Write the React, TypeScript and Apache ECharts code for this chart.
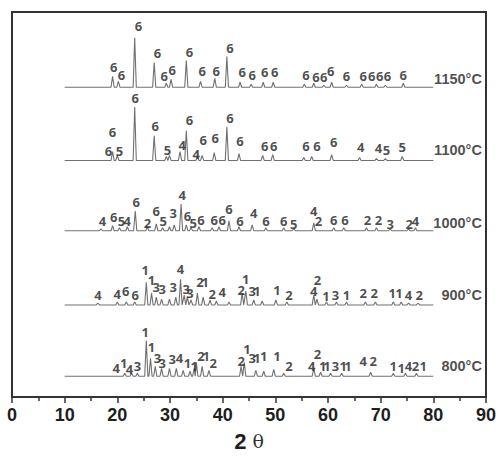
import React, { useEffect, useRef } from 'react';
import * as echarts from 'echarts';

// Temperatures, bottom to top, and their stacking offsets (arbitrary intensity units)
const temperatures = ['800°C', '900°C', '1000°C', '1100°C', '1150°C'];
const baselineOffsets = [21, 93, 168, 239, 313];
const tempLabelHeights = [10, 10, 8, 11, 8];
const scanStart = 10;
const scanEnd = 80;
const xTicks = [0, 10, 20, 30, 40, 50, 60, 70, 80, 90];

// Peaks: [2θ, intensity above baseline]
const peaks800 = [
  [21.4, 3], [22.7, 3], [23.8, 3], [25.5, 36], [26.3, 18], [27.2, 10], [28.4, 8], [29.9, 8],
  [31.2, 8], [32.5, 6], [33.8, 5], [34.6, 8], [35.0, 14], [36.1, 10], [37.4, 6], [43.5, 10],
  [44.1, 14], [46.3, 6], [47.8, 5], [49.7, 7], [51.6, 3], [57.3, 8], [58.6, 4], [60.5, 3],
  [62.6, 3], [68.1, 4], [72.4, 3], [74.7, 3], [76.8, 3],
];
const peaks900 = [
  [16.3, 2], [20.0, 3], [21.7, 3], [23.3, 3], [25.5, 23], [26.5, 12], [27.4, 8], [28.4, 6],
  [29.9, 6], [31.1, 8], [32.0, 26], [32.7, 10], [33.3, 8], [34.0, 5], [35.2, 12], [36.3, 8],
  [37.6, 5], [38.8, 4], [41.2, 3], [43.7, 12], [44.4, 14], [45.9, 5], [47.5, 4], [50.1, 5],
  [52.2, 3], [57.3, 10], [57.9, 6], [59.7, 3], [61.6, 3], [63.5, 3], [67.1, 3], [69.0, 3],
  [72.4, 3], [73.9, 3], [75.3, 2], [77.1, 2],
];
const peaks1000 = [
  [16.9, 2], [19.1, 5], [20.4, 3], [21.9, 4], [23.4, 20], [25.7, 4], [27.4, 7], [28.6, 3],
  [29.9, 4], [30.8, 6], [32.1, 27], [33.1, 6], [34.0, 3], [35.5, 4], [38.0, 3], [39.3, 4],
  [41.2, 10], [43.1, 4], [45.6, 6], [48.2, 3], [51.6, 3], [53.5, 2], [57.3, 8], [61.1, 3],
  [63.0, 3], [67.3, 3], [69.2, 3], [71.8, 2], [75.3, 2], [76.6, 3],
];
const peaks1100 = [
  [19.1, 9], [20.0, 5], [23.3, 54], [27.0, 25], [29.3, 4], [29.9, 5], [31.9, 9], [33.1, 30],
  [35.2, 4], [36.1, 5], [38.4, 8], [40.8, 34], [43.1, 7], [47.6, 5], [49.5, 6], [55.4, 3],
  [56.9, 4], [60.7, 6], [66.0, 3], [69.2, 2], [70.9, 2], [74.1, 4],
];
const peaks1150 = [
  [19.1, 11], [20.2, 6], [23.3, 50], [27.0, 25], [29.3, 4], [30.2, 8], [33.1, 27], [35.8, 6],
  [38.5, 9], [40.8, 31], [43.3, 5], [45.4, 3], [47.7, 5], [49.6, 5], [55.5, 3], [57.3, 4],
  [59.2, 2], [60.7, 5], [63.5, 2], [66.4, 3], [69.2, 3], [70.9, 2], [74.3, 4],
];

// Phase labels: [2θ, height above baseline, phase number]
const phaseLabels800 = [
  [19.8, 8, '4'], [21.2, 13, '1'], [22.3, 7, '4'], [23.8, 10, '3'], [25.3, 45, '1'], [26.5, 30, '1'],
  [27.6, 18, '3'], [28.5, 13, '3'], [30.4, 17, '3'], [31.8, 18, '4'], [33.3, 13, '1'], [34.6, 10, '1'],
  [35.9, 20, '2'], [36.9, 20, '1'], [38.2, 13, '2'], [43.5, 15, '2'], [44.6, 28, '1'], [45.6, 18, '3'],
  [46.5, 18, '1'], [47.8, 20, '1'], [50.3, 20, '1'], [52.6, 10, '2'], [56.9, 10, '4'], [58.0, 22, '2'],
  [59.0, 10, '1'], [59.8, 10, '1'], [61.4, 10, '3'], [62.9, 10, '1'], [63.8, 10, '1'], [66.7, 15, '4'],
  [68.6, 15, '2'], [72.4, 10, '1'], [73.9, 8, '1'], [75.3, 10, '4'], [76.6, 10, '2'], [78.1, 10, '1'],
];
const phaseLabels900 = [
  [16.3, 10, '4'], [20.0, 11, '4'], [21.6, 14, '6'], [23.4, 10, '6'], [25.3, 35, '1'], [26.5, 25, '1'],
  [27.4, 18, '3'], [28.5, 16, '3'], [30.6, 18, '3'], [32.0, 36, '4'], [33.1, 16, '3'], [33.8, 12, '3'],
  [35.7, 23, '2'], [36.7, 23, '1'], [38.0, 11, '2'], [39.9, 13, '4'], [43.5, 15, '2'], [44.4, 26, '1'],
  [45.6, 14, '3'], [46.5, 14, '1'], [50.3, 15, '1'], [52.6, 10, '2'], [57.3, 14, '4'], [58.0, 25, '2'],
  [59.6, 9, '1'], [61.4, 10, '3'], [63.5, 10, '1'], [66.7, 12, '2'], [68.8, 12, '2'], [72.2, 12, '1'],
  [73.5, 12, '1'], [75.3, 10, '4'], [77.3, 10, '2'],
];
const phaseLabels1000 = [
  [17.2, 10, '4'], [19.3, 14, '6'], [20.8, 10, '5'], [21.9, 10, '4'], [23.6, 29, '6'], [25.7, 8, '2'],
  [27.4, 20, '6'], [28.7, 10, '5'], [30.6, 18, '3'], [32.3, 36, '4'], [33.3, 15, '6'], [34.4, 8, '5'],
  [35.9, 11, '6'], [38.4, 11, '6'], [39.9, 11, '6'], [41.2, 22, '6'], [43.3, 10, '6'], [45.9, 18, '4'],
  [48.2, 10, '6'], [51.6, 10, '6'], [53.5, 7, '5'], [57.3, 20, '4'], [58.2, 10, '2'], [61.1, 11, '6'],
  [63.2, 11, '6'], [67.5, 11, '2'], [69.6, 11, '2'], [71.8, 7, '3'], [75.4, 7, '2'], [76.6, 10, '4'],
];
const phaseLabels1100 = [
  [23.4, 63, '6'], [19.1, 29, '6'], [18.3, 10, '6'], [20.4, 10, '5'], [27.2, 35, '6'], [29.5, 11, '5'],
  [32.3, 16, '4'], [33.7, 41, '6'], [35.0, 7, '4'], [36.3, 21, '6'], [38.6, 23, '6'], [41.4, 43, '6'],
  [43.3, 20, '6'], [48.0, 15, '6'], [49.7, 15, '6'], [55.8, 15, '6'], [57.9, 15, '6'], [61.1, 19, '6'],
  [66.2, 14, '4'], [69.6, 13, '4'], [71.1, 11, '5'], [74.1, 14, '5'],
];
const phaseLabels1150 = [
  [24.0, 62, '6'], [19.3, 20, '6'], [20.8, 12, '6'], [27.6, 35, '6'], [28.9, 11, '6'], [30.4, 17, '6'],
  [33.7, 36, '6'], [36.1, 16, '6'], [38.8, 16, '6'], [41.4, 40, '6'], [43.7, 15, '6'], [45.6, 12, '6'],
  [48.0, 15, '6'], [49.9, 15, '6'], [55.8, 12, '6'], [57.7, 10, '6'], [59.2, 10, '6'], [60.5, 16, '6'],
  [63.5, 11, '6'], [66.7, 11, '6'], [68.3, 11, '6'], [69.8, 11, '6'], [71.3, 11, '6'], [74.3, 12, '6'],
];

const allPeaks = [peaks800, peaks900, peaks1000, peaks1100, peaks1150];
const allLabels = [phaseLabels800, phaseLabels900, phaseLabels1000, phaseLabels1100, phaseLabels1150];

const HALF_WIDTH = 0.3;

function buildProfile(peaks: number[][], offset: number) {
  const sorted = [...peaks].sort((a, b) => a[0] - b[0]);
  const pts: number[][] = [[scanStart, offset]];
  for (let i = 0; i < sorted.length; i++) {
    const [x, h] = sorted[i];
    const prev = sorted[i - 1];
    if (!prev || x - HALF_WIDTH > prev[0] + HALF_WIDTH) pts.push([x - HALF_WIDTH, offset]);
    else pts.push([(x + prev[0]) / 2, offset]);
    pts.push([x, offset + h]);
    const next = sorted[i + 1];
    if (!next || next[0] - HALF_WIDTH > x + HALF_WIDTH) pts.push([x + HALF_WIDTH, offset]);
  }
  pts.push([scanEnd, offset]);
  return pts;
}

const labelFont = '"Open Sans", "DejaVu Sans", sans-serif';
const axisFont = '"Liberation Sans", Arial, sans-serif';

export default function App() {
  const ref = useRef<HTMLDivElement>(null);
  useEffect(() => {
    if (!ref.current) return;
    const chart = echarts.init(ref.current, null, { renderer: 'svg' });
    const series: any[] = [];
    allPeaks.forEach((peaks, i) => {
      series.push({
        type: 'line',
        data: buildProfile(peaks, baselineOffsets[i]),
        showSymbol: false,
        lineStyle: { color: '#707070', width: 1.1 },
        silent: true,
        z: 2,
      });
      series.push({
        type: 'scatter',
        data: allLabels[i].map((l) => ({ name: l[2], value: [l[0], baselineOffsets[i] + (l[1] as number)] })),
        symbolSize: 1,
        itemStyle: { color: 'rgba(0,0,0,0)' },
        label: {
          show: true,
          position: 'inside',
          formatter: '{b}',
          fontFamily: labelFont,
          fontWeight: 'bold',
          fontSize: 13,
          color: '#1e1e1e',
        },
        silent: true,
        z: 3,
      });
    });
    series.push({
      type: 'scatter',
      data: temperatures.map((t, i) => ({ name: t, value: [89.5, baselineOffsets[i] + tempLabelHeights[i]] })),
      symbolSize: 1,
      itemStyle: { color: 'rgba(0,0,0,0)' },
      label: {
        show: true,
        position: 'left',
        distance: 1,
        formatter: '{b}',
        fontFamily: axisFont,
        fontWeight: 'bold',
        fontSize: 14.5,
        color: '#1e1e1e',
      },
      silent: true,
      z: 3,
    });

    chart.setOption({
      animation: false,
      grid: {
        left: 12,
        right: 11,
        top: 12,
        bottom: 56,
        show: true,
        borderColor: '#333',
        borderWidth: 2,
      },
      xAxis: {
        type: 'value',
        min: xTicks[0],
        max: xTicks[xTicks.length - 1],
        interval: 10,
        axisLine: { show: true, lineStyle: { color: '#333', width: 2 } },
        axisTick: { show: true, length: 6, lineStyle: { color: '#333', width: 1.5 } },
        minorTick: { show: true, splitNumber: 2, length: 4, lineStyle: { color: '#333', width: 1.5 } },
        splitLine: { show: false },
        minorSplitLine: { show: false },
        axisLabel: {
          fontFamily: axisFont,
          fontWeight: 'bold',
          fontSize: 18,
          color: '#1e1e1e',
          margin: 9,
        },
        name: '{a|2}{b| θ}',
        nameLocation: 'middle',
        nameGap: 33,
        nameTextStyle: {
          rich: {
            a: { fontFamily: axisFont, fontWeight: 'bold', fontSize: 22, color: '#1e1e1e' },
            b: { fontFamily: '"DejaVu Serif", "Liberation Serif", serif', fontSize: 19, color: '#333' },
          },
        },
      },
      yAxis: {
        type: 'value',
        min: 0,
        max: 389,
        show: false,
        splitLine: { show: false },
      },
      series,
    });
    return () => chart.dispose();
  }, []);
  return <div ref={ref} style={{ position: 'absolute', left: 0, top: 0, width: 499, height: 457, background: '#fff' }} />;
}
